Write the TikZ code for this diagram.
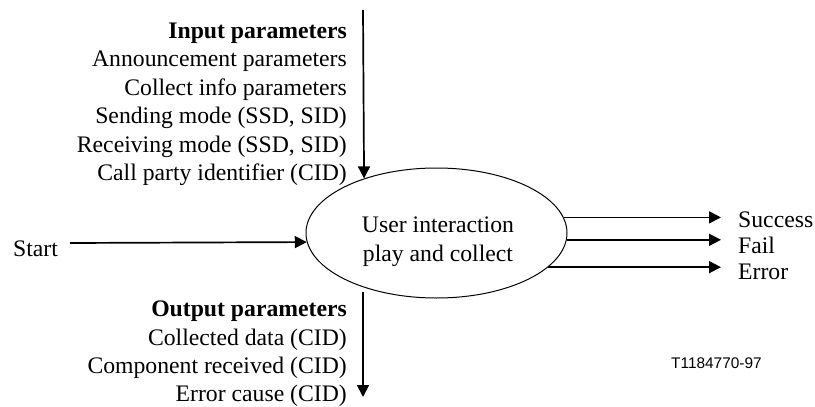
\documentclass[tikz,border=0pt]{standalone}
\usepackage{fontspec}
\setmainfont{Liberation Serif}
\setsansfont{Liberation Sans}
\usetikzlibrary{arrows.meta,shapes.geometric}
\begin{document}
\begin{tikzpicture}[x=1pt,y=-1pt,
  txt/.style={inner sep=0pt,font=\fontsize{23.7}{28.5}\selectfont},
  arr/.style={line width=1.7pt,-{Triangle[length=12pt,width=12pt]}},
  proc/.style={draw,ellipse,line width=1pt,minimum width=261pt,minimum height=130pt,inner sep=0pt}]
\useasboundingbox (0,0) rectangle (815,407);
% central process
\node[proc] (ell) at (436.5,233) {};
\node[txt,anchor=base] (l1) at (438,232.7) {User interaction};
\node[txt,anchor=base] (l2) at (438,261.2) {play and collect};
% input parameters
\node[txt,anchor=base east,font=\fontsize{23.7}{28.5}\selectfont\bfseries] (i0) at (347,38.3) {Input parameters};
\node[txt,anchor=base east] (i1) at (347,66.8) {Announcement parameters};
\node[txt,anchor=base east] (i2) at (347,95.3) {Collect info parameters};
\node[txt,anchor=base east] (i3) at (347,123.8) {Sending mode (SSD, SID)};
\node[txt,anchor=base east] (i4) at (347,152.3) {Receiving mode (SSD, SID)};
\node[txt,anchor=base east] (i5) at (347,180.8) {Call party identifier (CID)};
\coordinate (intop) at (363,10);
\draw[arr] (intop) -- (ell.143.85);
% output parameters
\node[txt,anchor=base east,font=\fontsize{23.7}{28.5}\selectfont\bfseries] (o0) at (347,316.7) {Output parameters};
\node[txt,anchor=base east] (o1) at (347,345) {Collected data (CID)};
\node[txt,anchor=base east] (o2) at (347,373.3) {Component received (CID)};
\node[txt,anchor=base east] (o3) at (347,401.6) {Error cause (CID)};
\coordinate (outtop) at (363,292);
\coordinate (outend) at (363,397);
\draw[arr] (outtop) -- (outend);
% start
\node[txt,anchor=base west] (start) at (13,256) {Start};
\coordinate (startpt) at (70,243);
\draw[arr] (startpt) -- (ell.184.4);
% results
\coordinate (tips) at (721,0);
\node[txt,anchor=base west] (succ) at (738,227.5) {Success};
\node[txt,anchor=base west] (fail) at (738,253.5) {Fail};
\node[txt,anchor=base west] (err) at (738,279) {Error};
\draw[arr] (ell.7.07) -- (ell.7.07 -| tips);
\draw[arr] (ell.-3.85) -- (ell.-3.85 -| tips);
\draw[arr] (ell.-17.2) -- (ell.-17.2 -| tips);
% figure id
\node[inner sep=0pt,anchor=base west,font=\sffamily\fontsize{15.4}{18}\selectfont] (fid) at (671,368.3) {T1184770-97};
\end{tikzpicture}
\end{document}
